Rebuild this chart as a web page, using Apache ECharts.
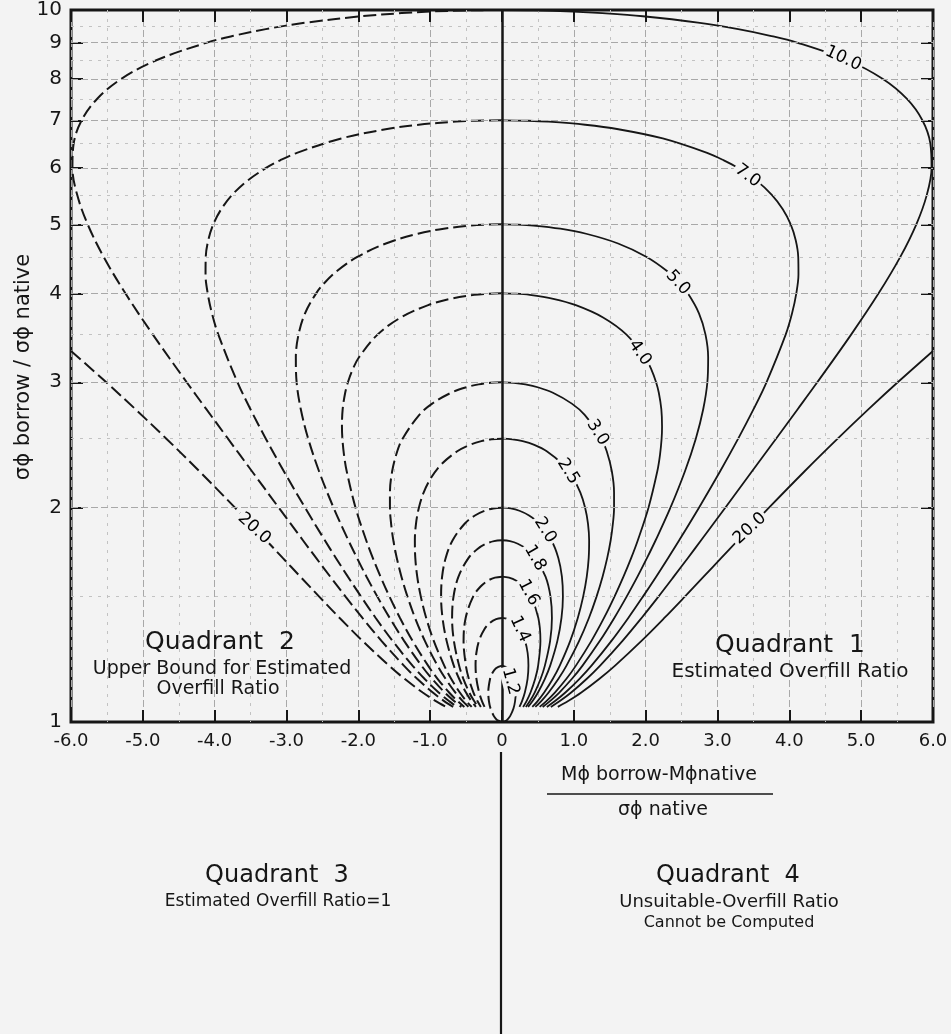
<!DOCTYPE html>
<html><head><meta charset="utf-8">
<script src="https://cdn.jsdelivr.net/npm/echarts@6/dist/echarts.min.js"></script>
<style>html,body{margin:0;padding:0;background:#f3f3f3}#c{width:951px;height:1034px}</style>
</head><body><div id="c"></div>
<script>
// ---- axis ticks ----
const xTickMin = -6, xTickMax = 6;
const yTickValues = [1, 2, 3, 4, 5, 6, 7, 8, 9, 10];
const yMinorGrid = [1.5, 2.5, 3.5, 4.5, 5.5, 6.5, 7.5, 8.5, 9.5];

// ---- contour curves of the overfill ratio (right half: [x, sigma ratio]) ----
const ratio12 = [[0,1.2],[0.084,1.19],[0.137,1.17],[0.166,1.15],[0.191,1.1],[0.182,1.07],[0.160,1.045],[0.115,1.02],[0.083,1.01],[0.06,1.005],[0,1.0]];
const ratio14 = [[0,1.4],[0.082,1.395],[0.161,1.38],[0.245,1.35],[0.320,1.3],[0.357,1.25],[0.368,1.2],[0.356,1.15],[0.318,1.1],[0.279,1.07],[0.243,1.05]];
const ratio16 = [[0,1.6],[0.098,1.595],[0.194,1.58],[0.298,1.55],[0.402,1.5],[0.506,1.4],[0.535,1.3],[0.503,1.2],[0.462,1.15],[0.397,1.1],[0.342,1.07],[0.294,1.05]];
const ratio18 = [[0,1.8],[0.111,1.795],[0.220,1.78],[0.341,1.75],[0.465,1.7],[0.606,1.6],[0.675,1.5],[0.695,1.4],[0.670,1.3],[0.597,1.2],[0.538,1.15],[0.455,1.1],[0.388,1.07],[0.332,1.05]];
const ratio20 = [[0,2.0],[0.122,1.995],[0.242,1.98],[0.377,1.95],[0.517,1.9],[0.687,1.8],[0.784,1.7],[0.834,1.6],[0.848,1.5],[0.828,1.4],[0.771,1.3],[0.671,1.2],[0.597,1.15],[0.501,1.1],[0.426,1.07],[0.363,1.05]];
const ratio25 = [[0,2.5],[0.145,2.495],[0.288,2.48],[0.450,2.45],[0.623,2.4],[0.846,2.3],[0.991,2.2],[1.091,2.1],[1.157,2.0],[1.197,1.9],[1.213,1.8],[1.207,1.7],[1.180,1.6],[1.130,1.5],[1.055,1.4],[0.950,1.3],[0.804,1.2],[0.708,1.15],[0.587,1.1],[0.496,1.07],[0.422,1.05]];
const ratio30 = [[0,3.0],[0.163,2.995],[0.325,2.98],[0.509,2.95],[0.709,2.9],[0.972,2.8],[1.151,2.7],[1.384,2.5],[1.458,2.4],[1.529,2.25],[1.560,2.1],[1.560,2.0],[1.544,1.9],[1.513,1.8],[1.465,1.7],[1.400,1.6],[1.316,1.5],[1.210,1.4],[1.074,1.3],[0.898,1.2],[0.786,1.15],[0.649,1.1],[0.547,1.07],[0.464,1.05]];
const ratio40 = [[0,4.0],[0.194,3.995],[0.386,3.98],[0.714,3.93],[1.028,3.85],[1.407,3.7],[1.733,3.5],[1.993,3.25],[2.080,3.125],[2.145,3.0],[2.183,2.9],[2.218,2.75],[2.228,2.6],[2.222,2.5],[2.200,2.375],[2.162,2.25],[2.039,2.0],[1.891,1.8],[1.799,1.7],[1.691,1.6],[1.566,1.5],[1.420,1.4],[1.245,1.3],[1.029,1.2],[0.897,1.15],[0.736,1.1],[0.618,1.07],[0.524,1.05]];
const ratio50 = [[0,5.0],[0.219,4.995],[0.437,4.98],[0.811,4.93],[1.171,4.85],[1.616,4.7],[2.014,4.5],[2.297,4.3],[2.459,4.15],[2.587,4.0],[2.742,3.75],[2.833,3.5],[2.870,3.25],[2.859,3.0],[2.801,2.75],[2.698,2.5],[2.547,2.25],[2.345,2.0],[2.139,1.8],[2.019,1.7],[1.886,1.6],[1.735,1.5],[1.563,1.4],[1.363,1.3],[1.121,1.2],[0.974,1.15],[0.798,1.1],[0.668,1.07],[0.566,1.05]];
const ratio70 = [[0,7.0],[0.370,6.99],[0.639,6.97],[1.158,6.9],[1.620,6.8],[2.238,6.6],[2.855,6.3],[3.088,6.15],[3.285,6.0],[3.552,5.75],[3.756,5.5],[3.909,5.25],[4.019,5.0],[4.089,4.75],[4.124,4.5],[4.127,4.25],[4.097,4.0],[4.038,3.75],[3.949,3.5],[3.682,3.0],[3.502,2.75],[3.288,2.5],[3.037,2.25],[2.742,2.0],[2.467,1.8],[2.313,1.7],[2.146,1.6],[1.962,1.5],[1.758,1.4],[1.524,1.3],[1.246,1.2],[1.079,1.15],[0.882,1.1],[0.738,1.07],[0.624,1.05]];
const ratio100 = [[0,10],[0.445,9.99],[0.991,9.95],[1.396,9.9],[1.960,9.8],[2.728,9.6],[3.288,9.4],[3.735,9.2],[4.106,9.0],[4.812,8.5],[5.303,8.0],[5.638,7.5],[5.852,7.0],[5.962,6.5],[5.980,6.0],[5.914,5.5],[5.768,5.0],[5.545,4.5],[5.243,4.0],[4.860,3.5],[4.389,3.0],[4.116,2.75],[3.815,2.5],[3.481,2.25],[3.108,2.0],[2.772,1.8],[2.588,1.7],[2.391,1.6],[2.178,1.5],[1.943,1.4],[1.678,1.3],[1.366,1.2],[1.181,1.15],[0.963,1.1],[0.805,1.07],[0.680,1.05]];
const ratio200 = [[6.0,3.32],[5.509,3.0],[5.103,2.75],[4.673,2.5],[4.213,2.25],[3.717,2.0],[3.284,1.8],[3.053,1.7],[2.807,1.6],[2.545,1.5],[2.260,1.4],[1.942,1.3],[1.574,1.2],[1.357,1.15],[1.104,1.1],[0.921,1.07],[0.777,1.05]];
const curves = [ratio12, ratio14, ratio16, ratio18, ratio20, ratio25, ratio30, ratio40, ratio50, ratio70, ratio100, ratio200];

// ---- contour labels ----
const labelText = ['10.0', '7.0', '5.0', '4.0', '3.0', '2.5', '2.0', '1.8', '1.6', '1.4', '1.2', '20.0', '20.0'];
const labelX    = [4.75, 3.42, 2.45, 1.92, 1.33, 0.92, 0.60, 0.46, 0.37, 0.25, 0.12, 3.45, -3.45];
const labelY    = [8.55, 5.85, 4.14, 3.30, 2.55, 2.25, 1.86, 1.70, 1.52, 1.35, 1.14, 1.87, 1.87];
const labelRotate = [-25, -37, -47, -55, -58, -58, -58, -60, -62, -65, -75, 42, -42];

const BG = '#f3f3f3';
const INK = '#161616';
const FONT = '"DejaVu Sans", "Liberation Sans", sans-serif';

const chart = echarts.init(document.getElementById('c'), null, {renderer: 'canvas'});

const series = [];
// grid lines + zero line
series.push({
  type: 'line', data: [], silent: true, z: 1, animation: false,
  markLine: {
    silent: true, symbol: ['none', 'none'], animation: false, label: {show: false},
    data: [
      ...yTickValues.filter(v => v > 1 && v < 10).map(v => ({yAxis: v, lineStyle: {color: '#a8a8a8', width: 1, type: [7, 3]}})),
      ...yMinorGrid.map(v => ({yAxis: v, lineStyle: {color: '#c2c2c2', width: 1, type: [3, 6]}})),
      {xAxis: 0, lineStyle: {color: INK, width: 2.5, type: 'solid'}}
    ]
  }
});
curves.forEach((c) => {
  series.push({
    type: 'line', data: c, showSymbol: false, symbol: 'none', smooth: 0.35, z: 3, silent: true,
    lineStyle: {color: INK, width: 1.8, type: 'solid'}
  });
  series.push({
    type: 'line', data: c.map(p => [-p[0], p[1]]), showSymbol: false, symbol: 'none', smooth: 0.35, z: 3, silent: true,
    lineStyle: {color: INK, width: 2, type: [13, 5]}
  });
});
series.push({
  type: 'scatter', z: 5, silent: true, symbolSize: 2, itemStyle: {color: 'rgba(0,0,0,0)', opacity: 1},
  data: labelText.map((t, i) => ({
    value: [labelX[i], labelY[i]],
    label: {show: true, position: 'inside', formatter: t, rotate: labelRotate[i], opacity: 1,
      color: '#000', textBorderWidth: 0, fontSize: 17, fontFamily: FONT, backgroundColor: BG, padding: [0, 2]}
  }))
});

const option = {
  backgroundColor: BG,
  animation: false,
  grid: {left: 71, right: 18, top: 8, bottom: 312, show: true, borderColor: INK, borderWidth: 3, backgroundColor: 'transparent'},
  xAxis: [{
    type: 'value', min: xTickMin, max: xTickMax, interval: 1,
    axisLine: {show: false, onZero: false},
    axisTick: {show: true, inside: true, length: 12, lineStyle: {color: INK, width: 2}},
    axisLabel: {margin: 10, color: INK, fontSize: 18, fontFamily: FONT,
      formatter: v => (v === 0 ? '0' : v.toFixed(1))},
    splitLine: {show: true, lineStyle: {color: '#a8a8a8', width: 1, type: [7, 3]}},
    minorTick: {show: false, splitNumber: 2},
    minorSplitLine: {show: true, lineStyle: {color: '#c2c2c2', width: 1, type: [3, 6]}}
  }, {
    type: 'value', position: 'top', min: xTickMin, max: xTickMax, interval: 1,
    axisLine: {show: false, onZero: false},
    axisTick: {show: true, inside: true, length: 12, lineStyle: {color: INK, width: 2}},
    axisLabel: {show: false}, splitLine: {show: false}
  }],
  yAxis: [{
    type: 'log', logBase: 10, min: 1, max: 10, position: 'left',
    axisLine: {show: false, onZero: false},
    axisTick: {show: true, inside: true, length: 12, customValues: yTickValues, lineStyle: {color: INK, width: 2}},
    axisLabel: {show: true, customValues: yTickValues, margin: 9, color: INK, fontSize: 20, fontFamily: FONT},
    splitLine: {show: false}
  }, {
    type: 'log', logBase: 10, min: 1, max: 10, position: 'right',
    axisLine: {show: false, onZero: false},
    axisTick: {show: true, inside: true, length: 12, customValues: yTickValues, lineStyle: {color: INK, width: 2}},
    axisLabel: {show: false}, splitLine: {show: false}
  }],
  series: series
};
chart.setOption(option);

const x0 = chart.convertToPixel({xAxisIndex: 0}, 0);
const txt = (text, x, y, size, extra) => Object.assign({
  type: 'text', x: x, y: y, silent: true,
  style: {text: text, fill: INK, font: size + 'px ' + FONT, textAlign: 'center', textVerticalAlign: 'middle'}
}, extra || {});
chart.setOption({
  graphic: [
    {type: 'line', silent: true, shape: {x1: x0 - 1, y1: 752, x2: x0 - 1, y2: 1034}, style: {stroke: INK, lineWidth: 2.2}},
    txt('σϕ borrow / σϕ native', 24, 367, 21, {rotation: Math.PI / 2}),
    txt('Mϕ borrow-Mϕnative', 659, 775, 19),
    {type: 'line', silent: true, shape: {x1: 547, y1: 794, x2: 773, y2: 794}, style: {stroke: INK, lineWidth: 1.6}},
    txt('σϕ native', 663, 810, 19),
    txt('Quadrant  2', 220, 642, 25),
    txt('Upper Bound for Estimated', 222, 669, 19),
    txt('Overfill Ratio', 218, 689, 19),
    txt('Quadrant  1', 790, 645, 25),
    txt('Estimated Overfill Ratio', 790, 672, 20),
    txt('Quadrant  3', 277, 876, 24),
    txt('Estimated Overfill Ratio=1', 278, 902, 17),
    txt('Quadrant  4', 728, 876, 24),
    txt('Unsuitable-Overfill Ratio', 729, 902, 18),
    txt('Cannot be Computed', 729, 923, 16)
  ]
});
</script>
</body></html>
